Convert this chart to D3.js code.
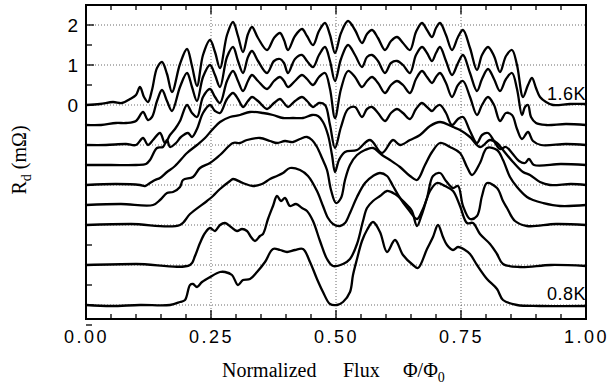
<!DOCTYPE html>
<html><head><meta charset="utf-8">
<script src="https://cdn.jsdelivr.net/npm/d3@7"></script>
<style>body{margin:0;background:#fff}svg{display:block}</style>
</head><body>
<svg id="c" width="609" height="385"></svg>
<script>
// ---- data ----
const xTicks = [0, 0.25, 0.5, 0.75, 1.0];
const xTickLabels = ["0.00", "0.25", "0.50", "0.75", "1.00"];
const yTickLabels = [2, 1, 0];
const offsets = [0, -0.5, -1, -1.5, -2, -2.5, -3, -4, -5];
const curveNames = ["1.6K", "", "", "", "", "", "", "", "0.8K"];

const c1 = [[0,0],[0.028,0.025],[0.054,0.075],[0.072,0.05],[0.088,0.15],[0.1,0.25],[0.108,0.45],[0.116,0.2],[0.124,0.075],[0.132,0.375],[0.142,0.925],[0.152,1.075],[0.162,0.775],[0.172,0.325],[0.188,1.025],[0.202,1.4],[0.212,0.975],[0.222,0.475],[0.234,1.25],[0.248,1.625],[0.258,1.325],[0.268,0.925],[0.282,1.75],[0.294,2.075],[0.304,1.725],[0.314,1.325],[0.324,1.775],[0.332,1.95],[0.344,1.675],[0.362,1.375],[0.376,1.675],[0.388,1.8],[0.396,1.625],[0.404,1.375],[0.418,1.725],[0.432,1.9],[0.442,1.725],[0.454,1.5],[0.466,1.85],[0.478,2.05],[0.488,1.75],[0.498,1.3],[0.51,1.8],[0.524,2.1],[0.538,1.875],[0.552,1.55],[0.562,1.775],[0.572,1.875],[0.584,1.675],[0.598,1.375],[0.61,1.6],[0.622,1.7],[0.634,1.55],[0.648,1.375],[0.66,1.825],[0.672,2.05],[0.682,1.875],[0.692,1.7],[0.7,1.925],[0.708,2.05],[0.72,1.75],[0.732,1.375],[0.744,1.7],[0.754,1.875],[0.768,1.425],[0.782,0.875],[0.792,1.25],[0.804,1.45],[0.816,1.225],[0.828,0.825],[0.84,1.225],[0.852,1.375],[0.862,1.0],[0.874,0.2],[0.884,0.5],[0.892,0.675],[0.9,0.425],[0.908,0.2],[0.92,0.075],[0.934,0],[0.968,0.025],[1,0.025]];
const c2 = [[0,0],[0.03,0],[0.06,0.05],[0.08,0.05],[0.1,0.1],[0.114,0.325],[0.124,0.125],[0.132,0.2],[0.142,0.6],[0.152,0.875],[0.162,0.6],[0.172,0.35],[0.188,0.95],[0.202,1.3],[0.212,0.95],[0.222,0.6],[0.234,1.2],[0.248,1.5],[0.258,1.25],[0.268,0.95],[0.282,1.7],[0.294,1.95],[0.304,1.6],[0.314,1.3],[0.324,1.7],[0.332,1.85],[0.344,1.6],[0.362,1.3],[0.376,1.6],[0.388,1.65],[0.396,1.55],[0.404,1.3],[0.418,1.65],[0.432,1.75],[0.442,1.6],[0.454,1.45],[0.466,1.75],[0.478,1.95],[0.488,1.6],[0.498,1.1],[0.51,1.65],[0.524,2.0],[0.538,1.75],[0.552,1.45],[0.562,1.7],[0.572,1.75],[0.584,1.6],[0.598,1.3],[0.61,1.55],[0.622,1.6],[0.634,1.5],[0.648,1.3],[0.66,1.75],[0.672,1.95],[0.682,1.8],[0.692,1.6],[0.7,1.8],[0.708,1.95],[0.72,1.6],[0.732,1.25],[0.744,1.55],[0.754,1.75],[0.768,1.3],[0.782,0.85],[0.792,1.15],[0.804,1.4],[0.816,1.15],[0.828,0.85],[0.84,1.15],[0.852,1.3],[0.862,0.9],[0.872,0.25],[0.878,0.45],[0.884,0.5],[0.89,0.2],[0.9,0.05],[0.92,0],[0.96,0.025],[1,0]];
const c3 = [[0,0],[0.04,0],[0.08,0.025],[0.1,0],[0.114,0.175],[0.124,0],[0.134,0.125],[0.148,0.3],[0.158,0.05],[0.168,0.25],[0.178,0.4],[0.188,0.6],[0.202,1.0],[0.212,0.8],[0.222,0.7],[0.234,1.2],[0.248,1.4],[0.258,1.2],[0.268,1.05],[0.282,1.6],[0.294,1.85],[0.304,1.6],[0.314,1.35],[0.324,1.6],[0.332,1.75],[0.344,1.6],[0.362,1.4],[0.376,1.6],[0.388,1.7],[0.396,1.6],[0.404,1.45],[0.418,1.6],[0.432,1.75],[0.442,1.65],[0.454,1.5],[0.466,1.7],[0.478,1.8],[0.488,1.4],[0.498,0.675],[0.51,1.4],[0.524,1.85],[0.538,1.7],[0.552,1.45],[0.562,1.6],[0.572,1.7],[0.584,1.55],[0.598,1.3],[0.61,1.5],[0.622,1.6],[0.634,1.5],[0.648,1.3],[0.66,1.65],[0.672,1.85],[0.682,1.7],[0.692,1.55],[0.7,1.7],[0.708,1.8],[0.72,1.55],[0.732,1.2],[0.744,1.5],[0.754,1.6],[0.768,1.2],[0.782,0.75],[0.792,1.0],[0.804,1.2],[0.816,1.0],[0.828,0.6],[0.84,0.8],[0.852,0.75],[0.862,0.4],[0.872,0.15],[0.884,0.325],[0.894,0.1],[0.91,0],[0.96,0.025],[1,0]];
const c4 = [[0,0],[0.05,0],[0.1,0],[0.12,0.025],[0.128,0.125],[0.142,0.425],[0.154,0.45],[0.162,0.625],[0.168,0.45],[0.18,0.55],[0.19,0.7],[0.204,0.8],[0.212,0.7],[0.222,0.9],[0.234,1.3],[0.248,1.5],[0.258,1.35],[0.268,1.3],[0.282,1.65],[0.294,1.8],[0.304,1.65],[0.314,1.45],[0.324,1.6],[0.332,1.7],[0.344,1.6],[0.362,1.4],[0.376,1.55],[0.388,1.65],[0.396,1.55],[0.404,1.45],[0.418,1.6],[0.432,1.7],[0.442,1.6],[0.454,1.45],[0.466,1.55],[0.478,1.5],[0.488,1.0],[0.498,0.425],[0.51,0.95],[0.524,1.4],[0.538,1.45],[0.552,1.2],[0.562,1.4],[0.572,1.45],[0.584,1.3],[0.598,1.1],[0.61,1.3],[0.622,1.4],[0.634,1.3],[0.648,1.15],[0.66,1.4],[0.672,1.55],[0.682,1.45],[0.692,1.35],[0.7,1.45],[0.708,1.5],[0.72,1.3],[0.732,1.0],[0.744,1.15],[0.754,1.2],[0.768,0.85],[0.782,0.55],[0.792,0.75],[0.804,0.8],[0.816,0.6],[0.828,0.4],[0.84,0.45],[0.852,0.3],[0.866,0.1],[0.878,0.05],[0.886,0.15],[0.896,0],[0.95,0.025],[1,0]];
const c5 = [[0,0],[0.06,0.025],[0.108,0],[0.118,-0.025],[0.128,0.05],[0.138,0.125],[0.148,0.175],[0.162,0.325],[0.178,0.475],[0.202,0.8],[0.222,1.0],[0.238,1.175],[0.252,1.375],[0.268,1.575],[0.288,1.7],[0.308,1.75],[0.328,1.825],[0.354,1.8],[0.374,1.75],[0.394,1.675],[0.414,1.675],[0.434,1.675],[0.452,1.75],[0.464,1.725],[0.474,1.575],[0.484,1.25],[0.492,0.75],[0.498,0.325],[0.506,0.625],[0.518,0.825],[0.542,0.875],[0.568,1.125],[0.592,0.8],[0.614,1.125],[0.628,1.0],[0.648,1.125],[0.668,1.25],[0.688,1.475],[0.708,1.575],[0.734,1.45],[0.748,1.375],[0.768,1.2],[0.788,0.95],[0.808,1.125],[0.822,1.05],[0.834,0.875],[0.854,0.575],[0.874,0.325],[0.888,0.25],[0.908,0.075],[0.928,0],[0.97,0.025],[1,0]];
const c6 = [[0,0],[0.07,0.025],[0.134,0],[0.148,0.125],[0.162,0.3],[0.174,0.325],[0.188,0.45],[0.194,0.625],[0.214,0.7],[0.228,0.925],[0.248,1.05],[0.268,1.25],[0.294,1.55],[0.308,1.55],[0.322,1.625],[0.348,1.675],[0.368,1.6],[0.382,1.55],[0.398,1.6],[0.414,1.575],[0.428,1.65],[0.442,1.7],[0.452,1.625],[0.462,1.45],[0.472,1.175],[0.482,0.875],[0.49,0.375],[0.5,0.05],[0.51,0.175],[0.518,0.625],[0.528,1.0],[0.542,1.25],[0.558,1.375],[0.574,1.425],[0.592,1.25],[0.608,1.125],[0.628,0.95],[0.648,0.725],[0.662,0.625],[0.678,1.0],[0.692,1.325],[0.708,1.55],[0.728,1.45],[0.748,1.3],[0.762,0.95],[0.772,0.75],[0.788,1.05],[0.802,1.425],[0.822,1.375],[0.834,1.125],[0.848,0.7],[0.862,0.45],[0.882,0.2],[0.894,0.125],[0.914,0.05],[0.948,-0.025],[1,0]];
const c7 = [[0,0],[0.09,0.025],[0.188,0],[0.208,0.275],[0.242,0.6],[0.254,0.725],[0.268,0.9],[0.288,1.1],[0.294,1.15],[0.314,1.05],[0.334,0.975],[0.352,1.025],[0.368,1.15],[0.382,1.225],[0.394,1.3],[0.408,1.425],[0.428,1.375],[0.444,1.225],[0.462,0.85],[0.474,0.475],[0.484,0.175],[0.494,0.025],[0.508,-0.025],[0.518,0.05],[0.528,0.3],[0.542,0.7],[0.558,1.05],[0.574,1.225],[0.588,1.3],[0.602,1.225],[0.614,0.975],[0.628,0.675],[0.644,0.4],[0.662,0.15],[0.672,0.35],[0.682,0.675],[0.694,1.225],[0.708,1.3],[0.72,1.1],[0.734,0.925],[0.744,0.975],[0.754,0.475],[0.768,0.15],[0.782,0.225],[0.792,0.725],[0.802,1.05],[0.822,0.925],[0.834,0.6],[0.842,0.425],[0.858,0.1],[0.882,-0.025],[0.94,0.025],[1,0]];
const c8 = [[0,0],[0.1,0.025],[0.208,0],[0.218,0.225],[0.228,0.55],[0.238,0.8],[0.248,0.925],[0.258,0.85],[0.268,1.0],[0.278,1.05],[0.29,0.95],[0.302,0.85],[0.312,0.9],[0.322,0.85],[0.33,0.7],[0.338,0.6],[0.348,0.725],[0.354,0.775],[0.364,1.15],[0.374,1.475],[0.382,1.725],[0.39,1.6],[0.398,1.675],[0.408,1.475],[0.42,1.525],[0.432,1.425],[0.442,1.35],[0.454,1.1],[0.468,0.6],[0.482,0.15],[0.494,-0.025],[0.514,0.025],[0.528,0.15],[0.542,0.525],[0.554,1.1],[0.562,1.425],[0.574,1.6],[0.588,1.725],[0.602,1.85],[0.618,1.775],[0.628,1.675],[0.644,1.475],[0.652,1.35],[0.662,0.975],[0.672,1.275],[0.688,1.85],[0.702,2.05],[0.718,1.975],[0.734,1.85],[0.748,1.475],[0.762,1.05],[0.774,1.05],[0.788,0.775],[0.808,0.525],[0.822,0.275],[0.834,0.025],[0.868,-0.05],[0.93,0],[1,-0.025]];
const c9 = [[0,0],[0.05,-0.025],[0.108,0],[0.168,0],[0.188,0.075],[0.198,0.125],[0.208,0.5],[0.214,0.525],[0.222,0.45],[0.232,0.575],[0.248,0.7],[0.268,0.825],[0.278,0.825],[0.292,0.75],[0.304,0.5],[0.314,0.625],[0.328,0.65],[0.342,0.825],[0.358,1.075],[0.374,1.4],[0.388,1.375],[0.402,1.325],[0.418,1.375],[0.434,1.4],[0.448,1.075],[0.462,0.65],[0.474,0.325],[0.488,0.025],[0.502,0],[0.514,0.075],[0.528,0.325],[0.534,0.75],[0.542,1.15],[0.552,1.6],[0.562,1.875],[0.574,2.075],[0.588,1.825],[0.602,1.325],[0.618,1.625],[0.634,1.25],[0.654,1.0],[0.664,0.925],[0.682,1.4],[0.694,1.7],[0.704,2.0],[0.714,1.7],[0.722,1.5],[0.734,1.375],[0.744,1.45],[0.758,1.375],[0.768,1.275],[0.782,1.0],[0.802,0.65],[0.822,0.4],[0.834,0.125],[0.862,0],[0.908,-0.025],[1,-0.025]];
const curves = [c1, c2, c3, c4, c5, c6, c7, c8, c9];

// ---- chart ----
const svg = d3.select("#c");
const L = 86, R = 586, T = 5, B = 319;
const x = d3.scaleLinear().domain([0, 1]).range([L, R]);
const y = d3.scaleLinear().domain([-5.35, 2.5]).range([B, T]);
const sans = "'Liberation Sans', Arial, sans-serif";
const serif = "'Liberation Serif', 'Times New Roman', serif";

// grid
const gridY = d3.range(-5, 3, 1);
svg.append("g").selectAll("line").data(gridY).join("line")
  .attr("x1", L).attr("x2", R).attr("y1", d => y(d)).attr("y2", d => y(d))
  .attr("stroke", "#444").attr("stroke-width", 0.8).attr("stroke-dasharray", "1,2");
svg.append("g").selectAll("line").data([0.25, 0.5, 0.75]).join("line")
  .attr("x1", d => x(d)).attr("x2", d => x(d)).attr("y1", T).attr("y2", B)
  .attr("stroke", "#444").attr("stroke-width", 0.8).attr("stroke-dasharray", "1,2");

// ticks
const minorX = d3.range(0, 1.0001, 0.05).filter(v => Math.abs(v * 4 - Math.round(v * 4)) > 1e-6);
const minorY = d3.range(-5.5, 2.5, 1);
const tk = svg.append("g").attr("stroke", "#000").attr("stroke-width", 1.3);
minorX.forEach(v => {
  tk.append("line").attr("x1", x(v)).attr("x2", x(v)).attr("y1", B).attr("y2", B - 5);
  tk.append("line").attr("x1", x(v)).attr("x2", x(v)).attr("y1", T).attr("y2", T + 5);
});
minorY.forEach(v => {
  tk.append("line").attr("x1", L).attr("x2", L + 6).attr("y1", y(v)).attr("y2", y(v));
});
xTicks.forEach(v => {
  tk.append("line").attr("x1", x(v)).attr("x2", x(v)).attr("y1", B).attr("y2", B - 9);
  tk.append("line").attr("x1", x(v)).attr("x2", x(v)).attr("y1", T).attr("y2", T + 9);
});
gridY.forEach(v => {
  tk.append("line").attr("x1", L).attr("x2", L + 8).attr("y1", y(v)).attr("y2", y(v));
});

// tick labels via d3 axes
const xAxis = d3.axisBottom(x).tickValues(xTicks).tickFormat((d, i) => xTickLabels[i]).tickSize(0).tickPadding(11);
const gx = svg.append("g").attr("transform", `translate(0,${B})`).call(xAxis);
gx.select(".domain").remove();
gx.selectAll("text").attr("font-family", sans).attr("font-size", 18).attr("fill", "#000")
  .attr("letter-spacing", "2.5px");

const yAxis = d3.axisLeft(y).tickValues(yTickLabels).tickFormat(d3.format("d")).tickSize(0).tickPadding(8);
const gy = svg.append("g").attr("transform", `translate(${L},0)`).call(yAxis);
gy.select(".domain").remove();
gy.selectAll("text").attr("font-family", sans).attr("font-size", 19).attr("fill", "#000");

// frame
svg.append("rect").attr("x", L).attr("y", T).attr("width", R - L).attr("height", B - T)
  .attr("fill", "none").attr("stroke", "#000").attr("stroke-width", 2);

// curves
const line = d3.line().curve(d3.curveCatmullRom.alpha(0.5));
curves.forEach((c, i) => {
  svg.append("path")
    .attr("d", line(c.map(d => [x(d[0]), y(d[1] + offsets[i])])))
    .attr("fill", "none").attr("stroke", "#000").attr("stroke-width", 2.3)
    .attr("stroke-linejoin", "round").attr("stroke-linecap", "round");
});

// temperature labels
curveNames.forEach((n, i) => {
  if (!n) return;
  svg.append("text").attr("x", x(0.922)).attr("y", y(offsets[i] + 0.12))
    .attr("font-family", sans).attr("font-size", 18).attr("letter-spacing", "0.5px")
    .attr("fill", "#000").text(n);
});

// axis titles
const titleFont = { "font-family": serif, "font-size": 20, "fill": "#000" };
const addText = (xx, yy, s) => {
  const t = svg.append("text").attr("x", xx).attr("y", yy);
  Object.entries(titleFont).forEach(([k, v]) => t.attr(k, v));
  t.text(s);
  return t;
};
addText(222, 377, "Normalized");
addText(343, 377, "Flux");
const phi = addText(403, 377, "\u03A6/\u03A6");
phi.append("tspan").attr("font-size", 14).attr("dy", 5).text("0");

const yt = svg.append("text").attr("transform", "translate(26,160) rotate(-90)")
  .attr("text-anchor", "middle").attr("font-family", serif).attr("font-size", 20).attr("fill", "#000");
yt.append("tspan").text("R");
yt.append("tspan").attr("font-size", 14).attr("dy", 5).text("d");
yt.append("tspan").attr("dy", -5).text(" (m\u03A9)");
</script>
</body></html>
